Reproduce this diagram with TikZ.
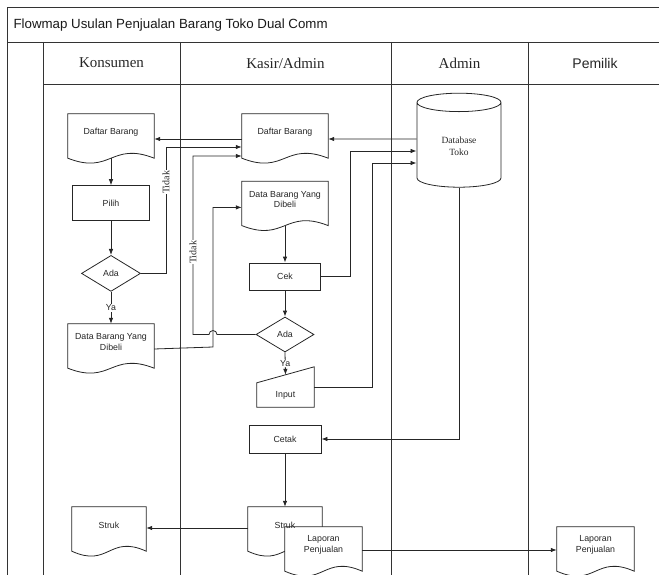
\documentclass[tikz,border=0pt]{standalone}
\usepackage{fontspec}
\setmainfont{Liberation Sans}
\newfontfamily\timesfont{Liberation Serif}
\usepackage{tikz}
\usetikzlibrary{shapes.geometric,positioning,calc,arrows.meta,backgrounds}

\newcommand{\boxfont}{\fontsize{8.8}{10.5}\selectfont}

\tikzset{
  lane/.style={draw=black!80, line width=0.9pt},
  flow/.style={draw=black!85, line width=0.8pt, -{Latex[length=6pt,width=4.5pt]}},
  proc/.style={rectangle, draw=black!85, line width=0.8pt, font=\boxfont, text=black!85, minimum width=#1, minimum height=28pt, inner sep=1pt},
  dec/.style={diamond, draw=black!85, line width=0.8pt, font=\boxfont, text=black!85, minimum width=59pt, minimum height=36pt, inner sep=0pt, aspect=1.6},
  doc/.style={minimum width=#1, minimum height=36pt, inner sep=1pt, align=center, font=\boxfont, text=black!85,
    append after command={\pgfextra{\begin{pgfonlayer}{background}
      \draw[draw=black!85, line width=0.8pt, fill=white] (\tikzlastnode.north west) -- (\tikzlastnode.north east)
        -- ([yshift=-8pt]\tikzlastnode.south east)
        .. controls ([yshift=9pt]\tikzlastnode.south) and ([yshift=-25pt]\tikzlastnode.south) .. ([yshift=-8pt]\tikzlastnode.south west) -- cycle;
      \end{pgfonlayer}}}},
  inshape/.style={minimum width=57pt, minimum height=24pt, inner sep=1pt, font=\boxfont, text=black!85,
    append after command={\pgfextra{
      \draw[draw=black!85, line width=0.8pt] (\tikzlastnode.south west) -- (\tikzlastnode.south east)
        -- ([yshift=16pt]\tikzlastnode.north east) -- (\tikzlastnode.north west) -- cycle;}}},
  store/.style={cylinder, shape border rotate=90, aspect=0.5, draw=black!85, line width=0.8pt, minimum width=84pt, minimum height=94pt, inner sep=1pt, align=center, text=black!85, font=\timesfont\fontsize{9.5}{12}\selectfont},
  tidak/.style={rotate=90, fill=white, inner sep=0.6pt, text=black!85, font=\timesfont\fontsize{10}{12}\selectfont},
  ya/.style={fill=white, inner sep=0.8pt, text=black!85, font=\boxfont},
  head/.style={text=black!85, font=\timesfont\fontsize{15}{18}\selectfont}
}

\begin{document}
\begin{tikzpicture}[x=1pt, y=-1pt]
    \useasboundingbox (0,0) rectangle (659,575);

    % swimlane frame
    \draw[lane] (7,575) -- (7,7) -- (659,7);
    \draw[lane] (7,42) -- (659,42);
    \draw[lane] (43,84) -- (659,84);
    \foreach \x in {43,180,391,528}
        \draw[lane] (\x,42) -- (\x,575);

    % title and lane headers
    \node[anchor=west, text=black!90, font=\fontsize{13.3}{16}\selectfont] (title) at (10,25) {Flowmap Usulan Penjualan Barang Toko Dual Comm};
    \node[head] (hkons) at (111.5,63) {Konsumen};
    \node[head] (hkasir) at (285.5,63) {Kasir/Admin};
    \node[head] (hadmin) at (459.5,63) {Admin};
    \node[text=black!85, font=\fontsize{14}{17}\selectfont] (hpemilik) at (595,63) {Pemilik};

    % Konsumen
    \node[doc=86pt] (dbk) at (111,132) {Daftar Barang};
    \node[proc=77pt, minimum height=35pt, below=35pt of dbk] (pilih) {Pilih};
    \node[dec, below=34pt of pilih] (ada1) {Ada};
    \node[doc=86pt, below=32pt of ada1] (dbb1) {Data Barang Yang\\Dibeli};
    \node[doc=74pt] (struk1) at (109,525) {Struk};

    % Kasir/Admin
    \node[doc=86pt] (dbk2) at (285,132) {Daftar Barang};
    \node[doc=86pt, below=31pt of dbk2] (dbb2) {Data Barang Yang\\Dibeli};
    \node[proc=71pt, minimum height=27pt, below=45pt of dbb2] (cek) {Cek};
    \node[dec, minimum width=58pt, minimum height=35pt] (ada2) at (285,334.5) {Ada};
    \node[inshape] (inp) at (285.5,395) {Input};
    \node[proc=72pt] (cetak) at (285,439) {Cetak};
    \node[doc=74pt] (struk2) at (285,525) {Struk};
    \node[doc=77pt] (lap1) at (323.5,545) {Laporan\\Penjualan};

    % Admin
    \node[store] (db) at (459,146) {Database\\Toko};

    % Pemilik
    \node[doc=77pt] (lap2) at (595.5,545) {Laporan\\Penjualan};

    % corner of the jump line
    \coordinate (jog) at (213,347);

    % flows in Konsumen lane
    \draw[flow] ([yshift=-8pt]dbk.south) -- (pilih);
    \draw[flow] (pilih) -- (ada1);
    \draw[flow] (ada1) -- node[ya] {Ya} (dbb1);
    \draw[flow] (ada1.east) -- ++(25,0) |- node[tidak, pos=0.36] {Tidak} ([yshift=-15pt]dbk2.west);
    \draw[flow] ([yshift=-7pt]dbb1.east) -- (jog) |- ([yshift=-8pt]dbb2.west);

    % flows in Kasir/Admin lane
    \draw[flow] ([yshift=-7pt]dbk2.west) -- ([yshift=-7pt]dbk.east);
    \draw[flow] ([yshift=-8pt]dbb2.south) -- (cek);
    \draw[flow] (cek) -- (ada2);
    \draw[flow] (ada2.south) -- node[ya] {Ya} ([yshift=8pt]inp.north);
    \draw[flow] (ada2.west) -- ($(ada2.west -| jog)+(4,0)$) arc[start angle=0, end angle=180, radius=4pt]
        -- ++(-16,0) |- node[tidak, pos=0.23] {Tidak} ([yshift=-24pt]dbk2.west);
    \draw[flow] (cetak) -- (struk2);
    \draw[flow] ([yshift=-3pt]struk2.west) -- ([yshift=-3pt]struk1.east);
    \draw[flow] ([yshift=-5pt]lap1.east) -- ([yshift=-5pt]lap2.west);

    % flows with the database
    \draw[flow] ([yshift=7pt]db.west) -- ([yshift=-7pt]dbk2.east);
    \draw[flow] (cek.east) -- ++(29,0) |- ([yshift=-5pt]db.west);
    \draw[flow] ([yshift=8pt]inp.east) -- ++(58,0) |- ([yshift=-17pt]db.west);
    \draw[flow] (db.south) |- (cetak.east);

\end{tikzpicture}
\end{document}
